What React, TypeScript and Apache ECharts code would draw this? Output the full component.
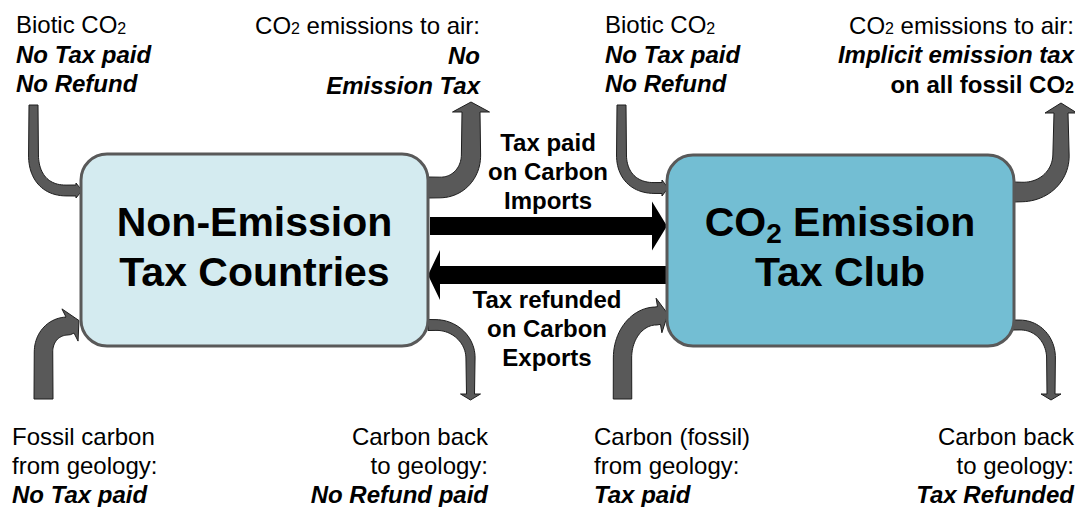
import React, { useEffect, useRef } from "react";
import * as echarts from "echarts";

const FONT = "'Liberation Sans', Arial, Helvetica, sans-serif";

type Pt = [number, number];
type Line = { x: number; y: number; text: string; w?: "normal" | "bold"; s?: "normal" | "italic"; align?: "left" | "right" | "center"; size?: number };

// ---- text content ----
const topLeftLines: Line[] = [
  { x: 16, y: 24.5, text: "Biotic CO{s|2}" },
  { x: 16, y: 54, text: "No Tax paid", w: "bold", s: "italic" },
  { x: 16, y: 83, text: "No Refund", w: "bold", s: "italic" },
];
const topMidLeftLines: Line[] = [
  { x: 480, y: 25, text: "CO{s|2} emissions to air:", align: "right" },
  { x: 480, y: 55, text: "No", w: "bold", s: "italic", align: "right" },
  { x: 480, y: 85, text: "Emission Tax", w: "bold", s: "italic", align: "right" },
];
const topMidRightLines: Line[] = [
  { x: 605, y: 24.5, text: "Biotic CO{s|2}" },
  { x: 605, y: 54, text: "No Tax paid", w: "bold", s: "italic" },
  { x: 605, y: 83, text: "No Refund", w: "bold", s: "italic" },
];
const topRightLines: Line[] = [
  { x: 1074, y: 25, text: "CO{s|2} emissions to air:", align: "right" },
  { x: 1074, y: 54.5, text: "Implicit emission tax", w: "bold", s: "italic", align: "right" },
  { x: 1074, y: 84, text: "on all fossil CO{sb|2}", w: "bold", align: "right" },
];
const importLines: Line[] = [
  { x: 548, y: 142, text: "Tax paid", w: "bold", align: "center" },
  { x: 548, y: 171, text: "on Carbon", w: "bold", align: "center" },
  { x: 548, y: 200, text: "Imports", w: "bold", align: "center" },
];
const exportLines: Line[] = [
  { x: 547, y: 299, text: "Tax refunded", w: "bold", align: "center" },
  { x: 547, y: 328, text: "on Carbon", w: "bold", align: "center" },
  { x: 547, y: 357, text: "Exports", w: "bold", align: "center" },
];
const bottomLines: Line[] = [
  { x: 12, y: 436, text: "Fossil carbon" },
  { x: 12, y: 465, text: "from geology:" },
  { x: 12, y: 494, text: "No Tax paid", w: "bold", s: "italic" },
  { x: 488, y: 436, text: "Carbon back", align: "right" },
  { x: 488, y: 465, text: "to geology:", align: "right" },
  { x: 488, y: 494, text: "No Refund paid", w: "bold", s: "italic", align: "right" },
  { x: 594, y: 436, text: "Carbon (fossil)" },
  { x: 594, y: 465, text: "from geology:" },
  { x: 594, y: 494, text: "Tax paid", w: "bold", s: "italic" },
  { x: 1074, y: 436, text: "Carbon back", align: "right" },
  { x: 1074, y: 465, text: "to geology:", align: "right" },
  { x: 1074, y: 494, text: "Tax Refunded", w: "bold", s: "italic", align: "right" },
];
const bigLines: Line[] = [
  { x: 254.5, y: 222, text: "Non-Emission", w: "bold", align: "center", size: 41 },
  { x: 254.5, y: 272, text: "Tax Countries", w: "bold", align: "center", size: 41 },
  { x: 840, y: 222, text: "CO{bs|2} Emission", w: "bold", align: "center", size: 41 },
  { x: 840, y: 272, text: "Tax Club", w: "bold", align: "center", size: 41 },
];

// ---- curved arrow definitions: start, straight-to, cubic c1, c2, end, head base ----
type ArrowDef = { S: Pt; A: Pt; c1: Pt; c2: Pt; B: Pt; E: Pt; w0: number; w1: number; head: number; headLen: number };
const curvedArrows: ArrowDef[] = [
  // left box, top-left inflow
  { S: [33.5, 105], A: [33.5, 155], c1: [33.5, 176], c2: [45, 190.5], B: [66, 190.5], E: [76, 190.5], w0: 9, w1: 11, head: 7.5, headLen: 6 },
  // left box, top-right outflow
  { S: [428, 187.5], A: [440, 187.5], c1: [458, 187.5], c2: [471, 173], B: [471, 155], E: [471, 112], w0: 21, w1: 18, head: 18.5, headLen: 10 },
  // left box, bottom-left inflow
  { S: [43.5, 399], A: [43.5, 352], c1: [43.5, 337], c2: [54, 326], B: [68, 326], E: [70, 325], w0: 19, w1: 18, head: 18, headLen: 10 },
  // left box, bottom-right outflow
  { S: [428, 325], A: [436, 325], c1: [455, 325], c2: [470.5, 340], B: [470.5, 358], E: [470.5, 394], w0: 11, w1: 8, head: 10, headLen: 6 },
  // right box, top-left inflow
  { S: [621.5, 105], A: [621.5, 155], c1: [621.5, 175], c2: [634, 188], B: [654, 188], E: [662, 188], w0: 9, w1: 11, head: 8, headLen: 6 },
  // right box, top-right outflow
  { S: [1013, 192], A: [1022, 192], c1: [1044, 192], c2: [1061, 176], B: [1061, 155], E: [1061, 113], w0: 20, w1: 14, head: 16, headLen: 10 },
  // right box, bottom-left inflow
  { S: [622.5, 399], A: [622.5, 358], c1: [622.5, 334], c2: [638, 316], B: [656, 316], E: [659, 315.5], w0: 18.5, w1: 18, head: 17.5, headLen: 9 },
  // right box, bottom-right outflow
  { S: [1013, 325], A: [1020, 325], c1: [1038, 325], c2: [1051, 340], B: [1051, 358], E: [1051, 394], w0: 10, w1: 8, head: 10, headLen: 6 },
];

function cubicPts(p0: Pt, p1: Pt, p2: Pt, p3: Pt, n = 24): Pt[] {
  const out: Pt[] = [];
  for (let k = 1; k <= n; k++) {
    const t = k / n;
    const mt = 1 - t;
    const a = mt * mt * mt, b = 3 * mt * mt * t, c = 3 * mt * t * t, d = t * t * t;
    out.push([a * p0[0] + b * p1[0] + c * p2[0] + d * p3[0], a * p0[1] + b * p1[1] + c * p2[1] + d * p3[1]]);
  }
  return out;
}

function arrowPolygon(def: ArrowDef): Pt[] {
  const pts: Pt[] = [def.S, def.A, ...cubicPts(def.A, def.c1, def.c2, def.B)];
  if (Math.hypot(def.E[0] - def.B[0], def.E[1] - def.B[1]) > 0.5) pts.push(def.E);
  const n = pts.length;
  const cum: number[] = [0];
  for (let i = 1; i < n; i++) cum.push(cum[i - 1] + Math.hypot(pts[i][0] - pts[i - 1][0], pts[i][1] - pts[i - 1][1]));
  const L = cum[n - 1];
  const left: Pt[] = [];
  const right: Pt[] = [];
  let lastT: Pt = [1, 0];
  let lastN: Pt = [0, 1];
  for (let i = 0; i < n; i++) {
    const a = pts[Math.max(0, i - 1)];
    const b = pts[Math.min(n - 1, i + 1)];
    let tx = b[0] - a[0], ty = b[1] - a[1];
    if (i === n - 1) { tx = pts[n - 1][0] - pts[n - 2][0]; ty = pts[n - 1][1] - pts[n - 2][1]; }
    const len = Math.hypot(tx, ty) || 1;
    tx /= len; ty /= len;
    const nx = -ty, ny = tx;
    const w = def.w0 + (def.w1 - def.w0) * (cum[i] / L);
    left.push([pts[i][0] + nx * w / 2, pts[i][1] + ny * w / 2]);
    right.push([pts[i][0] - nx * w / 2, pts[i][1] - ny * w / 2]);
    lastT = [tx, ty];
    lastN = [nx, ny];
  }
  const base = pts[n - 1];
  const head: Pt[] = [
    [base[0] + lastN[0] * def.head, base[1] + lastN[1] * def.head],
    [base[0] + lastT[0] * def.headLen, base[1] + lastT[1] * def.headLen],
    [base[0] - lastN[0] * def.head, base[1] - lastN[1] * def.head],
  ];
  return [...left, ...head, ...right.reverse()];
}

const rich = {
  s: { fontSize: 16, fontFamily: FONT, fill: "#000", padding: [7, 0, 0, 0] },
  sb: { fontSize: 16, fontFamily: FONT, fontWeight: "bold", fill: "#000", padding: [7, 0, 0, 0] },
  bs: { fontSize: 28, fontFamily: FONT, fontWeight: "bold", fill: "#000", padding: [22, 0, 0, 0] },
};

function textEl(l: Line) {
  return {
    type: "text",
    x: l.x,
    y: l.y,
    style: {
      text: l.text,
      fill: "#000",
      fontSize: l.size ?? 24,
      fontWeight: l.w ?? "normal",
      fontStyle: l.s ?? "normal",
      fontFamily: FONT,
      align: l.align ?? "left",
      verticalAlign: "middle",
      rich,
    },
    z: 10,
  };
}

export default function App() {
  const ref = useRef<HTMLDivElement>(null);
  useEffect(() => {
    if (!ref.current) return;
    const chart = echarts.init(ref.current, null, { renderer: "svg" });
    const elements: any[] = [];
    curvedArrows.forEach((a) => {
      elements.push({
        type: "polygon",
        shape: { points: arrowPolygon(a) },
        style: { fill: "#595959", stroke: "#1e1e1e", lineWidth: 1 },
        z: 1,
      });
    });
    // black straight arrows
    elements.push({
      type: "polygon",
      shape: { points: [[430, 217], [652, 217], [652, 201.5], [667, 226], [652, 250.5], [652, 235], [430, 235]] },
      style: { fill: "#000" },
      z: 2,
    });
    elements.push({
      type: "polygon",
      shape: { points: [[667, 266], [440, 266], [440, 250], [428, 275], [440, 300], [440, 284], [667, 284]] },
      style: { fill: "#000" },
      z: 2,
    });
    // boxes
    elements.push({
      type: "rect",
      shape: { x: 81, y: 154, width: 347, height: 192, r: 26 },
      style: { fill: "#D4EBF0", stroke: "#595959", lineWidth: 3 },
      z: 3,
    });
    elements.push({
      type: "rect",
      shape: { x: 667, y: 155, width: 347, height: 191, r: 26 },
      style: { fill: "#73BED3", stroke: "#595959", lineWidth: 3 },
      z: 3,
    });
    [...topLeftLines, ...topMidLeftLines, ...topMidRightLines, ...topRightLines, ...importLines, ...exportLines, ...bottomLines, ...bigLines].forEach(
      (l) => elements.push(textEl(l))
    );
    chart.setOption({ animation: false, graphic: { elements } });
    return () => chart.dispose();
  }, []);
  return (
    <div
      ref={ref}
      style={{ position: "fixed", left: 0, top: 0, width: 1075, height: 507, background: "#fff" }}
    />
  );
}
